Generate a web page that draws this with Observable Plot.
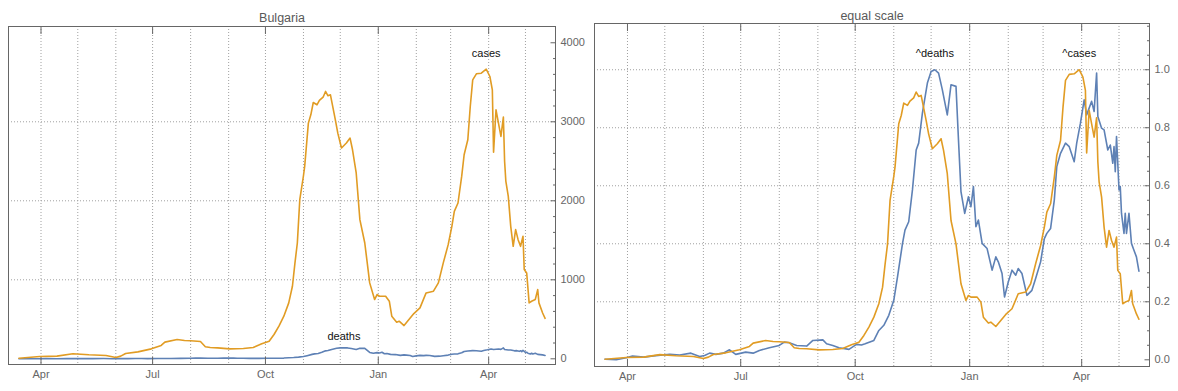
<!DOCTYPE html>
<html><head><meta charset="utf-8">
<script src="https://cdn.jsdelivr.net/npm/d3@7"></script>
<script src="https://cdn.jsdelivr.net/npm/@observablehq/plot@0.6"></script>
<style>
body{margin:0;background:#fff;}
#wrap{position:relative;width:1178px;height:391px;overflow:hidden;background:#fff;}
#wrap svg{position:absolute;top:0;}
</style></head><body><div id="wrap"></div>
<script>
// ---- data (7-day averages, Bulgaria) ----
const caseDates = [
"2020-03-14","2020-03-31","2020-04-14","2020-04-27","2020-05-10","2020-05-24","2020-06-01","2020-06-05","2020-06-09","2020-06-19",
"2020-06-30","2020-07-08","2020-07-11","2020-07-21","2020-07-27","2020-08-01","2020-08-09","2020-08-13","2020-08-17","2020-08-23",
"2020-09-02","2020-09-13","2020-09-21","2020-09-28","2020-10-04","2020-10-08","2020-10-12","2020-10-16","2020-10-20","2020-10-23",
"2020-10-25","2020-10-27","2020-10-29","2020-11-01","2020-11-02","2020-11-05","2020-11-07","2020-11-09","2020-11-12","2020-11-14",
"2020-11-17","2020-11-19","2020-11-21","2020-11-23","2020-11-27","2020-11-29","2020-12-02","2020-12-06","2020-12-09","2020-12-11",
"2020-12-14","2020-12-17","2020-12-21","2020-12-25","2020-12-29","2020-12-31","2021-01-02","2021-01-04","2021-01-07","2021-01-10",
"2021-01-12","2021-01-16","2021-01-18","2021-01-22","2021-01-26","2021-01-30","2021-02-04","2021-02-09","2021-02-15","2021-02-19",
"2021-02-23","2021-02-27","2021-03-02","2021-03-04","2021-03-07","2021-03-10","2021-03-12","2021-03-15","2021-03-17","2021-03-19",
"2021-03-22","2021-03-26","2021-03-30","2021-04-02","2021-04-04","2021-04-05","2021-04-07","2021-04-09","2021-04-11","2021-04-13",
"2021-04-14","2021-04-15","2021-04-17","2021-04-19","2021-04-21","2021-04-23","2021-04-25","2021-04-27","2021-04-29","2021-04-30",
"2021-05-02","2021-05-04","2021-05-06","2021-05-09","2021-05-11","2021-05-12","2021-05-15","2021-05-17"];
const caseValues = [
7,29,34,65,51,42,17,34,67,88,
126,169,211,244,232,228,219,152,143,139,
126,131,143,190,223,308,413,539,708,918,
1205,1466,2014,2317,2436,2983,3088,3244,3215,3270,
3311,3384,3329,3341,3025,2856,2668,2731,2794,2646,
2352,1761,1466,961,750,813,792,792,792,729,
539,464,476,421,497,573,645,834,856,961,
1214,1445,1677,1867,1972,2309,2583,2772,3194,3531,
3607,3615,3666,3573,3405,2615,3152,2983,2815,3060,
2500,2250,2056,1677,1424,1635,1508,1424,1551,1130,
1087,708,729,750,876,708,580,512];

const deathDates = [
"2020-03-14","2020-03-23","2020-03-31","2020-04-05","2020-04-14","2020-04-22","2020-05-05","2020-05-13","2020-05-22","2020-05-29",
"2020-06-02","2020-06-06","2020-06-11","2020-06-17","2020-06-22","2020-06-27","2020-07-05","2020-07-11","2020-07-16","2020-07-24",
"2020-08-01","2020-08-05","2020-08-09","2020-08-15","2020-08-23","2020-08-28","2020-09-05","2020-09-08","2020-09-13","2020-09-18",
"2020-09-26","2020-10-02","2020-10-06","2020-10-09","2020-10-16","2020-10-20","2020-10-24","2020-10-28","2020-11-01","2020-11-04",
"2020-11-08","2020-11-10","2020-11-13","2020-11-16","2020-11-19","2020-11-21","2020-11-24","2020-11-28","2020-12-01","2020-12-04",
"2020-12-07","2020-12-10","2020-12-14","2020-12-17","2020-12-21","2020-12-23","2020-12-25","2020-12-28","2020-12-31","2021-01-02",
"2021-01-04","2021-01-06","2021-01-08","2021-01-11","2021-01-15","2021-01-19","2021-01-22","2021-01-24","2021-01-27","2021-01-29",
"2021-02-01","2021-02-04","2021-02-07","2021-02-09","2021-02-12","2021-02-16","2021-02-20","2021-02-23","2021-02-27","2021-03-02",
"2021-03-04","2021-03-07","2021-03-10","2021-03-12","2021-03-15","2021-03-19","2021-03-22","2021-03-26","2021-03-28","2021-03-31",
"2021-04-03","2021-04-05","2021-04-09","2021-04-11","2021-04-13","2021-04-14","2021-04-17","2021-04-19","2021-04-22","2021-04-24",
"2021-04-26","2021-04-27","2021-04-28","2021-04-29","2021-05-01","2021-05-02","2021-05-03","2021-05-05","2021-05-06","2021-05-07",
"2021-05-09","2021-05-11","2021-05-13","2021-05-15","2021-05-17"];
const deathValues = [
0.3,0,1.0,1.8,1.3,1.9,2.7,2.3,3.2,1.6,
2.1,3.2,2.6,3.2,4.8,2.6,3.7,3.2,4.5,5.8,
6.9,8.5,8.2,6.9,6.6,9.3,9.6,7.7,6.9,5.8,
5.0,7.4,7.1,7.7,9.3,14.1,16.6,21.4,28.6,39.9,
55.9,62.4,66.4,81.7,100.9,104.2,118.6,133.1,138.7,139.5,
137.9,129.9,117.8,132.3,131.5,105.7,80.9,70.4,78.4,73.6,
83.3,64,67.2,56,53.5,43.1,49.5,47.1,41.5,30.2,
37.4,43.1,40.7,43.9,41.5,31,33.4,39.1,47.1,58.3,
60.8,63.1,76.8,92.9,99.3,104.2,102.5,95.3,104.2,113.8,
125,117.8,124.3,119.4,137.9,117,111.4,110.6,100.9,103.3,
94.5,102.5,90.5,107.4,81.7,83.3,70.4,60.8,70.4,60.8,
70.4,56,52.7,49.5,42.6];

// tick labels
const xTickDates = ["2020-04-01","2020-07-01","2020-10-01","2021-01-01","2021-04-01"];
const xTickLabels = ["Apr","Jul","Oct","Jan","Apr"];
const leftTicks = [0,1000,2000,3000,4000];
const leftTickLabels = ["0","1000","2000","3000","4000"];
const rightTicks = [0,0.2,0.4,0.6,0.8,1.0];
const rightTickLabels = ["0.0","0.2","0.4","0.6","0.8","1.0"];
const titles = ["Bulgaria","equal scale"];
const seriesNames = ["deaths","cases"];
const normNames = ["^deaths","^cases"];

// ---- build ----
const parse = d3.utcParse("%Y-%m-%d");
const cases = caseDates.map((d,i)=>({date:parse(d), value:caseValues[i]}));
const deaths = deathDates.map((d,i)=>({date:parse(d), value:deathValues[i]}));
const cMax = d3.max(caseValues), dMax = d3.max(deathValues);
const casesN = cases.map(d=>({date:d.date, value:d.value/cMax}));
const deathsN = deaths.map(d=>({date:d.date, value:d.value/dMax}));

const BLUE = "#5E81B5", ORANGE = "#E19C24", AX = "#666666", GRID = "#a0a0a0";
const xDomain = [new Date(Date.UTC(2020,2,5,12)), new Date(Date.UTC(2021,4,25,12))];
const months = d3.utcMonth.range(new Date(Date.UTC(2020,3,1)), new Date(Date.UTC(2021,5,1)));
const xTicks = xTickDates.map(parse);
const xFmt = d => xTickLabels[xTicks.findIndex(t => +t === +d)];
const FONT = "'Liberation Sans', Arial, Helvetica, sans-serif";

function panel(o) {
  const yFmt = d => o.yLabels[o.yTicks.findIndex(t => Math.abs(t - d) < 1e-9)];
  const dMaxPt = d3.greatest(o.deaths, d => d.value);
  const cMaxPt = d3.greatest(o.cases, d => d.value);
  return Plot.plot({
    width: o.width, height: 391,
    marginLeft: o.ml, marginRight: o.mr, marginTop: o.mt, marginBottom: o.mb,
    x: {type: "utc", domain: xDomain, label: null},
    y: {domain: o.yDomain, label: null},
    style: {fontFamily: FONT, fontSize: "11px", color: AX, background: "transparent", overflow: "visible"},
    marks: [
      Plot.gridX(months, {stroke: GRID, strokeOpacity: 1, strokeDasharray: "1,2"}),
      Plot.gridY(o.yGrid, {stroke: GRID, strokeOpacity: 1, strokeDasharray: "1,2"}),
      Plot.lineY(o.deaths, {x: "date", y: "value", stroke: BLUE, strokeWidth: 1.6}),
      Plot.lineY(o.cases, {x: "date", y: "value", stroke: ORANGE, strokeWidth: 1.6}),
      Plot.frame({stroke: AX, strokeWidth: 1}),
      Plot.axisX(xTicks, {anchor: "bottom", tickSize: 7, dy: -7, fill: "none", stroke: AX}),
      Plot.axisX(xTicks, {anchor: "top", tickSize: 7, dy: 7, fill: "none", stroke: AX}),
      Plot.axisX(xTicks, {anchor: "bottom", tickSize: 0, tickPadding: 6, tickFormat: xFmt, fill: AX, fontSize: 11}),
      Plot.axisY(o.yTicks, {anchor: "right", tickSize: 5.5, dx: -5.5, fill: "none", stroke: AX}),
      Plot.axisY(o.yMinor, {anchor: "right", tickSize: 3, dx: -3, fill: "none", stroke: AX}),
      Plot.axisY(o.yTicks, {anchor: "right", tickSize: 0, tickPadding: 5, tickFormat: yFmt, fill: AX, fontSize: 11}),
      Plot.text([dMaxPt], {x: "date", y: "value", text: () => o.names[0], dy: o.dyD, fill: "#111", fontSize: 11}),
      Plot.text([cMaxPt], {x: "date", y: "value", text: () => o.names[1], dy: o.dyC, fill: "#111", fontSize: 11}),
      Plot.text([o.title], {frameAnchor: "top", dy: o.titleDy, fill: "#595959", fontSize: 12.5})
    ]
  });
}

const left = panel({
  width: 590, ml: 8, mr: 35, mt: 26, mb: 27,
  yDomain: [-72, 4206], yTicks: leftTicks, yLabels: leftTickLabels,
  yMinor: d3.range(200, 4000, 200).filter(v => v % 1000 !== 0),
  yGrid: [1000, 2000, 3000],
  deaths, cases, names: seriesNames, dyD: -11, dyC: -16,
  title: titles[0], titleDy: -13.5
});
const right = panel({
  width: 588, ml: 4, mr: 29, mt: 23, mb: 25,
  yDomain: [-0.0231, 1.1594], yTicks: rightTicks, yLabels: rightTickLabels,
  yMinor: d3.range(1, 24).map(i => i * 0.05).filter(v => Math.abs(v * 5 - Math.round(v * 5)) > 1e-6),
  yGrid: [0.2, 0.4, 0.6, 0.8, 1.0],
  deaths: deathsN, cases: casesN, names: normNames, dyD: -16.5, dyC: -16,
  title: titles[1], titleDy: -12.7
});
left.style.left = "0px";
right.style.left = "590px";
const wrap = document.getElementById("wrap");
wrap.appendChild(left);
wrap.appendChild(right);
</script>
</body></html>
